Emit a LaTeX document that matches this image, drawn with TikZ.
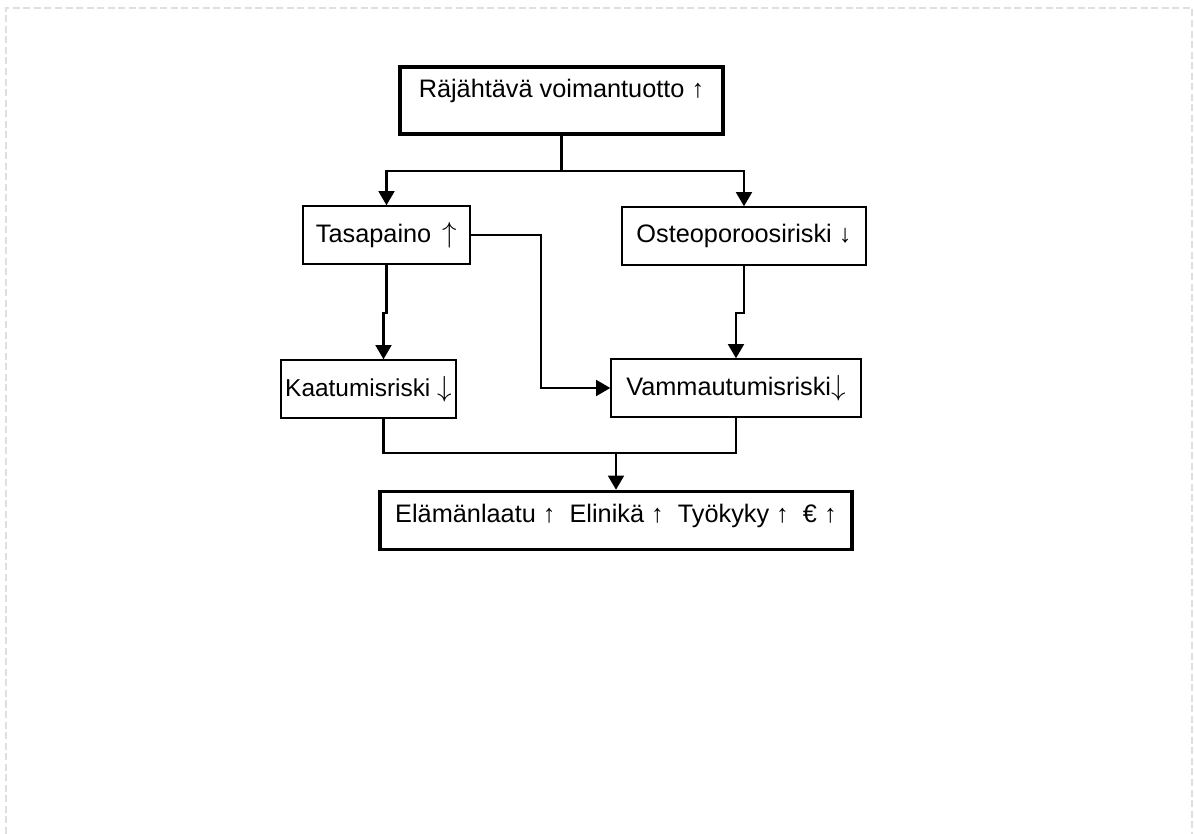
\documentclass[tikz,border=0pt]{standalone}
\usepackage{fontspec}
\setmainfont{Liberation Sans}
\usetikzlibrary{arrows.meta}
\tikzstyle{box} = [draw, line width=0.85pt, inner sep=0pt, minimum height=1.16cm, font=\fontsize{14.4}{17}\selectfont]
\tikzstyle{bigbox} = [box, line width=2pt]
\tikzstyle{line} = [line width=1.2pt]
\tikzstyle{arrow} = [line, -{Triangle[length=8pt,width=9pt]}]
\newcommand{\bigup}{\scalebox{1.15}{$\uparrow$}}
\newcommand{\bigdown}{\scalebox{1.15}{$\downarrow$}}

\begin{document}
\begin{tikzpicture}[x=0.02cm, y=-0.02cm]
      \useasboundingbox (0,0) rectangle (1194,834);
      \draw[gray!25, line width=0.6pt, dash pattern=on 4pt off 2pt] (6,834) -- (6,8) -- (1192,8) -- (1192,834);

      % Nodes
      \node[bigbox, minimum width=6.46cm, text height=0.62cm, text depth=0.72cm] (voima) at (561.5,100.5) {Räjähtävä voimantuotto ↑};
      \node[box, minimum width=3.34cm] (tasa) at (386.5,235) {Tasapaino\,\ \bigup};
      \node[box, minimum width=4.88cm] (osteo) at (744,236) {Osteoporoosiriski ↓};
      \node[box, minimum width=3.5cm, font=\fontsize{13.9}{16}\selectfont] (kaatu) at (368.5,389) {Kaatumisriski \bigdown};
      \node[box, minimum width=5cm] (vamma) at (736,388) {Vammautumisriski\bigdown};
      \node[bigbox, minimum width=9.44cm, text height=0.62cm, text depth=0.52cm] (elama) at (616,520.5) {Elämänlaatu ↑~ Elinikä ↑~ Työkyky ↑~ € ↑};
      \coordinate (yhdys) at (616,453);

      % Edges
      \draw[arrow] (voima.south) -- ++(0,35) -| (tasa.north);
      \draw[arrow] (voima.south) -- ++(0,35) -| (osteo.north);
      \draw[arrow] (tasa.south) -- ++(0,48) -| ([xshift=0.3cm]kaatu.north);
      \draw[arrow] (tasa.east) -- ++(70,0) |- (vamma.west);
      \draw[arrow] (osteo.south) -- ++(0,47) -| (vamma.north);
      \draw[line] ([xshift=0.3cm]kaatu.south) |- (yhdys) -| (vamma.south);
      \draw[arrow] (yhdys) -- (elama.north);
  \end{tikzpicture}
\end{document}
